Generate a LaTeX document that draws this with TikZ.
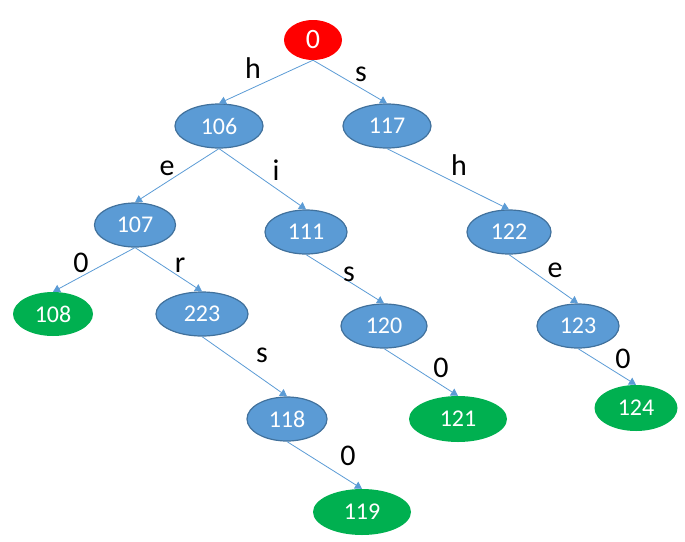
\documentclass[tikz,border=0pt]{standalone}
\usepackage{fontspec}
\setmainfont{Carlito}
\usetikzlibrary{shapes.geometric,arrows.meta}
\definecolor{nodeblue}{HTML}{5B9BD5}
\definecolor{nodeline}{HTML}{41719C}
\definecolor{leafgreen}{HTML}{00B050}
\begin{document}
\begin{tikzpicture}[x=1pt,y=-1pt,
  st/.style={ellipse,inner sep=0pt,minimum height=44pt,text=white,font=\fontsize{24}{28}\selectfont},
  inner/.style={st,fill=nodeblue,draw=nodeline,line width=1.2pt},
  leaf/.style={st,fill=leafgreen},
  edge/.style={draw=nodeblue,line width=.8pt,-{Triangle[length=7pt,width=8pt]}},
  lbl/.style={inner sep=0pt,font=\fontsize{30}{34}\selectfont}]
\useasboundingbox (0,0) rectangle (685,541);
% trie nodes
\node[st,fill=red,minimum width=58pt,minimum height=40pt,font=\fontsize{28}{32}\selectfont] (n0) at (313,40) {0};
\node[inner,minimum width=88pt] (n106) at (219,126) {106};
\node[inner,minimum width=88pt] (n117) at (387,126) {117};
\node[inner,minimum width=81pt] (n107) at (135,225) {107};
\node[inner,minimum width=82pt] (n111) at (306,232) {111};
\node[inner,minimum width=84pt] (n122) at (509,232) {122};
\node[leaf,minimum width=80pt] (n108) at (53,314) {108};
\node[inner,minimum width=92pt] (n223) at (202,314) {223};
\node[inner,minimum width=86pt] (n120) at (384,326) {120};
\node[inner,minimum width=82pt] (n123) at (578,326) {123};
\node[inner,minimum width=80pt] (n118) at (287,419) {118};
\node[leaf,minimum width=98pt,minimum height=46pt] (n121) at (458,419) {121};
\node[leaf,minimum width=83pt,minimum height=46pt] (n124) at (636,408) {124};
\node[leaf,minimum width=98pt,minimum height=46pt] (n119) at (362,512) {119};
% edges
\foreach \a/\b in {n0/n106,n0/n117,n106/n107,n106/n111,n117/n122,n107/n108,n107/n223,
  n111/n120,n122/n123,n223/n118,n120/n121,n123/n124,n118/n119}
  \draw[edge] (\a.south) -- (\b.north);
% letters
\node[lbl] (l1) at (253,68) {h};
\node[lbl] (l2) at (361,74) {s};
\node[lbl] (l3) at (167,168) {e};
\node[lbl] (l4) at (276,170) {i};
\node[lbl] (l5) at (459,165) {h};
\node[lbl] (l6) at (81,263) {0};
\node[lbl] (l7) at (180,265) {r};
\node[lbl] (l8) at (349,274) {s};
\node[lbl] (l9) at (555,270) {e};
\node[lbl] (l10) at (262,355) {s};
\node[lbl] (l11) at (441,368) {0};
\node[lbl] (l12) at (623,359) {0};
\node[lbl] (l13) at (348,456) {0};
\end{tikzpicture}
\end{document}
